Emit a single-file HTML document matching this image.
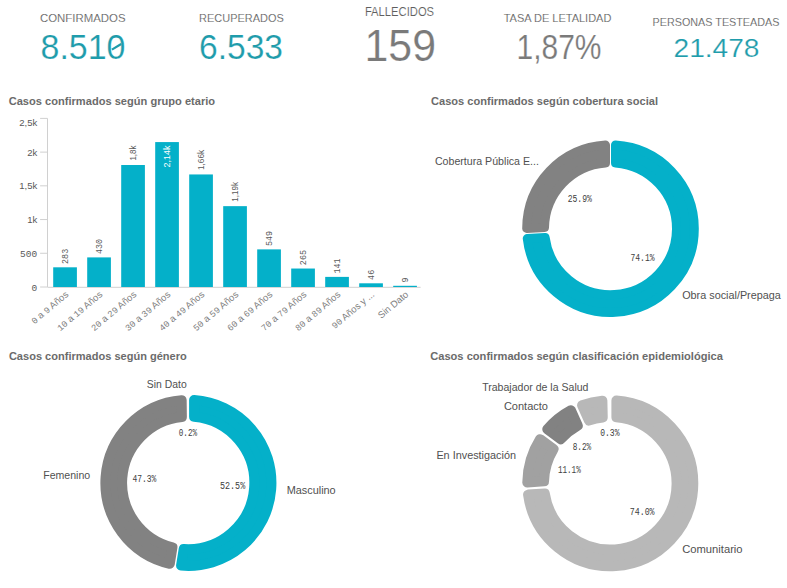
<!DOCTYPE html>
<html><head><meta charset="utf-8"><style>
html,body{margin:0;padding:0;background:#fff;width:787px;height:588px;overflow:hidden}
svg{display:block}
</style></head><body>
<svg width="787" height="588" viewBox="0 0 787 588">
<text x="39.9" y="21.8" font-family="Liberation Sans, sans-serif" font-size="11.5" fill="#5e5e5e" text-anchor="start" font-weight="normal" textLength="85.6" lengthAdjust="spacingAndGlyphs" stroke="#fff" stroke-width="0.12">CONFIRMADOS</text>
<text x="199.1" y="21.9" font-family="Liberation Sans, sans-serif" font-size="11.5" fill="#5e5e5e" text-anchor="start" font-weight="normal" textLength="84.7" lengthAdjust="spacingAndGlyphs" stroke="#fff" stroke-width="0.12">RECUPERADOS</text>
<text x="364.9" y="15.9" font-family="Liberation Sans, sans-serif" font-size="12.2" fill="#5e5e5e" text-anchor="start" font-weight="normal" textLength="69.2" lengthAdjust="spacingAndGlyphs" stroke="#fff" stroke-width="0.12">FALLECIDOS</text>
<text x="503.7" y="21.8" font-family="Liberation Sans, sans-serif" font-size="11.5" fill="#5e5e5e" text-anchor="start" font-weight="normal" textLength="107.7" lengthAdjust="spacingAndGlyphs" stroke="#fff" stroke-width="0.12">TASA DE LETALIDAD</text>
<text x="652.6" y="25.6" font-family="Liberation Sans, sans-serif" font-size="11.5" fill="#5e5e5e" text-anchor="start" font-weight="normal" textLength="126.8" lengthAdjust="spacingAndGlyphs" stroke="#fff" stroke-width="0.12">PERSONAS TESTEADAS</text>
<text x="40.5" y="59" font-family="Liberation Sans, sans-serif" font-size="34.5" fill="#1f9cab" text-anchor="start" font-weight="normal" textLength="85" lengthAdjust="spacingAndGlyphs" stroke="#fff" stroke-width="0.2">8.510</text>
<text x="199" y="59" font-family="Liberation Sans, sans-serif" font-size="34.5" fill="#1f9cab" text-anchor="start" font-weight="normal" textLength="84" lengthAdjust="spacingAndGlyphs" stroke="#fff" stroke-width="0.2">6.533</text>
<text x="364.5" y="60.7" font-family="Liberation Sans, sans-serif" font-size="44.5" fill="#7a7a7a" text-anchor="start" font-weight="normal" textLength="71.5" lengthAdjust="spacingAndGlyphs" stroke="#fff" stroke-width="0.2">159</text>
<line x1="111.9" y1="49.6" x2="121.2" y2="44.0" stroke="#1f9cab" stroke-width="2.2"/>
<text x="516.5" y="59.1" font-family="Liberation Sans, sans-serif" font-size="34.5" fill="#7a7a7a" text-anchor="start" font-weight="normal" textLength="85" lengthAdjust="spacingAndGlyphs" stroke="#fff" stroke-width="0.2">1,87%</text>
<text x="673.5" y="56.5" font-family="Liberation Sans, sans-serif" font-size="26" fill="#1f9cab" text-anchor="start" font-weight="normal" textLength="86" lengthAdjust="spacingAndGlyphs" stroke="#fff" stroke-width="0.2">21.478</text>
<text x="8.7" y="105.2" font-family="Liberation Sans, sans-serif" font-size="11.8" fill="#6b6b6b" text-anchor="start" font-weight="bold" textLength="206.4" lengthAdjust="spacingAndGlyphs">Casos confirmados según grupo etario</text>
<text x="431" y="105.2" font-family="Liberation Sans, sans-serif" font-size="11.8" fill="#6b6b6b" text-anchor="start" font-weight="bold" textLength="227" lengthAdjust="spacingAndGlyphs">Casos confirmados según cobertura social</text>
<text x="8.9" y="359.8" font-family="Liberation Sans, sans-serif" font-size="11.8" fill="#6b6b6b" text-anchor="start" font-weight="bold" textLength="177.9" lengthAdjust="spacingAndGlyphs">Casos confirmados según género</text>
<text x="430.2" y="359.8" font-family="Liberation Sans, sans-serif" font-size="11.8" fill="#6b6b6b" text-anchor="start" font-weight="bold" textLength="292.8" lengthAdjust="spacingAndGlyphs">Casos confirmados según clasificación epidemiológica</text>
<line x1="47.5" y1="118.4" x2="47.5" y2="287.0" stroke="#d0d0d0" stroke-width="1"/>
<line x1="47.5" y1="287.3" x2="420.6" y2="287.3" stroke="#d0d0d0" stroke-width="1"/>
<line x1="40.1" y1="287.00" x2="47.5" y2="287.00" stroke="#d0d0d0" stroke-width="1"/>
<text x="37.2" y="290.5" font-family="Liberation Mono, monospace" font-size="9.5" fill="#595959" text-anchor="end" font-weight="normal">0</text>
<line x1="40.1" y1="253.28" x2="47.5" y2="253.28" stroke="#d0d0d0" stroke-width="1"/>
<text x="37.2" y="256.78" font-family="Liberation Mono, monospace" font-size="9.5" fill="#595959" text-anchor="end" font-weight="normal">500</text>
<line x1="40.1" y1="219.56" x2="47.5" y2="219.56" stroke="#d0d0d0" stroke-width="1"/>
<text x="37.2" y="223.06" font-family="Liberation Sans, sans-serif" font-size="9.5" fill="#595959" text-anchor="end" font-weight="normal">1k</text>
<line x1="40.1" y1="185.84" x2="47.5" y2="185.84" stroke="#d0d0d0" stroke-width="1"/>
<text x="37.2" y="189.34" font-family="Liberation Sans, sans-serif" font-size="9.5" fill="#595959" text-anchor="end" font-weight="normal">1,5k</text>
<line x1="40.1" y1="152.12" x2="47.5" y2="152.12" stroke="#d0d0d0" stroke-width="1"/>
<text x="37.2" y="155.62" font-family="Liberation Sans, sans-serif" font-size="9.5" fill="#595959" text-anchor="end" font-weight="normal">2k</text>
<line x1="40.1" y1="118.40" x2="47.5" y2="118.40" stroke="#d0d0d0" stroke-width="1"/>
<text x="37.2" y="125.7" font-family="Liberation Sans, sans-serif" font-size="9.5" fill="#595959" text-anchor="end" font-weight="normal">2,5k</text>
<rect x="53.20" y="267.31" width="23.7" height="19.69" fill="#04b0c9"/>
<text transform="translate(68.15,263.91) rotate(-90)" font-family="Liberation Mono, monospace" font-size="8.4" fill="#595959" text-anchor="start">283</text>
<text transform="translate(69.05,295.50) rotate(-40)" font-family="Liberation Sans, sans-serif" font-size="9.5" fill="#808080" text-anchor="end"><tspan font-family="Liberation Mono, monospace" font-size="9">0</tspan> a <tspan font-family="Liberation Mono, monospace" font-size="9">9</tspan> Años</text>
<rect x="87.20" y="257.40" width="23.7" height="29.60" fill="#04b0c9"/>
<text transform="translate(102.15,254.00) rotate(-90)" font-family="Liberation Mono, monospace" font-size="8.4" fill="#595959" text-anchor="start">430</text>
<text transform="translate(103.05,295.50) rotate(-40)" font-family="Liberation Sans, sans-serif" font-size="9.5" fill="#808080" text-anchor="end"><tspan font-family="Liberation Mono, monospace" font-size="9">10</tspan> a <tspan font-family="Liberation Mono, monospace" font-size="9">19</tspan> Años</text>
<rect x="121.20" y="165.01" width="23.7" height="121.99" fill="#04b0c9"/>
<text transform="translate(136.15,160.61) rotate(-90)" font-family="Liberation Sans, sans-serif" font-size="9" fill="#595959" text-anchor="start" textLength="15" lengthAdjust="spacingAndGlyphs">1,8k</text>
<text transform="translate(137.05,295.50) rotate(-40)" font-family="Liberation Sans, sans-serif" font-size="9.5" fill="#808080" text-anchor="end"><tspan font-family="Liberation Mono, monospace" font-size="9">20</tspan> a <tspan font-family="Liberation Mono, monospace" font-size="9">29</tspan> Años</text>
<rect x="155.20" y="142.08" width="23.7" height="144.92" fill="#04b0c9"/>
<text transform="translate(170.35,145.48) rotate(-90)" font-family="Liberation Sans, sans-serif" font-size="9" fill="#ffffff" text-anchor="end">2,14k</text>
<text transform="translate(171.05,295.50) rotate(-40)" font-family="Liberation Sans, sans-serif" font-size="9.5" fill="#808080" text-anchor="end"><tspan font-family="Liberation Mono, monospace" font-size="9">30</tspan> a <tspan font-family="Liberation Mono, monospace" font-size="9">39</tspan> Años</text>
<rect x="189.20" y="174.45" width="23.7" height="112.55" fill="#04b0c9"/>
<text transform="translate(204.15,170.05) rotate(-90)" font-family="Liberation Sans, sans-serif" font-size="9" fill="#595959" text-anchor="start" textLength="20.3" lengthAdjust="spacingAndGlyphs">1,66k</text>
<text transform="translate(205.05,295.50) rotate(-40)" font-family="Liberation Sans, sans-serif" font-size="9.5" fill="#808080" text-anchor="end"><tspan font-family="Liberation Mono, monospace" font-size="9">40</tspan> a <tspan font-family="Liberation Mono, monospace" font-size="9">49</tspan> Años</text>
<rect x="223.20" y="206.15" width="23.7" height="80.85" fill="#04b0c9"/>
<text transform="translate(238.15,201.75) rotate(-90)" font-family="Liberation Sans, sans-serif" font-size="9" fill="#595959" text-anchor="start" textLength="19.8" lengthAdjust="spacingAndGlyphs">1,19k</text>
<text transform="translate(239.05,295.50) rotate(-40)" font-family="Liberation Sans, sans-serif" font-size="9.5" fill="#808080" text-anchor="end"><tspan font-family="Liberation Mono, monospace" font-size="9">50</tspan> a <tspan font-family="Liberation Mono, monospace" font-size="9">59</tspan> Años</text>
<rect x="257.20" y="249.38" width="23.7" height="37.62" fill="#04b0c9"/>
<text transform="translate(272.15,245.98) rotate(-90)" font-family="Liberation Mono, monospace" font-size="8.4" fill="#595959" text-anchor="start">549</text>
<text transform="translate(273.05,295.50) rotate(-40)" font-family="Liberation Sans, sans-serif" font-size="9.5" fill="#808080" text-anchor="end"><tspan font-family="Liberation Mono, monospace" font-size="9">60</tspan> a <tspan font-family="Liberation Mono, monospace" font-size="9">69</tspan> Años</text>
<rect x="291.20" y="268.53" width="23.7" height="18.47" fill="#04b0c9"/>
<text transform="translate(306.15,265.13) rotate(-90)" font-family="Liberation Mono, monospace" font-size="8.4" fill="#595959" text-anchor="start">265</text>
<text transform="translate(307.05,295.50) rotate(-40)" font-family="Liberation Sans, sans-serif" font-size="9.5" fill="#808080" text-anchor="end"><tspan font-family="Liberation Mono, monospace" font-size="9">70</tspan> a <tspan font-family="Liberation Mono, monospace" font-size="9">79</tspan> Años</text>
<rect x="325.20" y="276.89" width="23.7" height="10.11" fill="#04b0c9"/>
<text transform="translate(340.15,273.49) rotate(-90)" font-family="Liberation Mono, monospace" font-size="8.4" fill="#595959" text-anchor="start">141</text>
<text transform="translate(341.05,295.50) rotate(-40)" font-family="Liberation Sans, sans-serif" font-size="9.5" fill="#808080" text-anchor="end"><tspan font-family="Liberation Mono, monospace" font-size="9">80</tspan> a <tspan font-family="Liberation Mono, monospace" font-size="9">89</tspan> Años</text>
<rect x="359.20" y="283.30" width="23.7" height="3.70" fill="#04b0c9"/>
<text transform="translate(374.15,279.90) rotate(-90)" font-family="Liberation Mono, monospace" font-size="8.4" fill="#595959" text-anchor="start">46</text>
<text transform="translate(375.05,295.50) rotate(-40)" font-family="Liberation Sans, sans-serif" font-size="9.5" fill="#808080" text-anchor="end"><tspan font-family="Liberation Mono, monospace" font-size="9">90</tspan> Años y ...</text>
<rect x="393.20" y="285.79" width="23.7" height="1.21" fill="#04b0c9"/>
<text transform="translate(408.15,282.39) rotate(-90)" font-family="Liberation Mono, monospace" font-size="8.4" fill="#595959" text-anchor="start">9</text>
<text transform="translate(409.05,295.50) rotate(-40)" font-family="Liberation Sans, sans-serif" font-size="9.5" fill="#808080" text-anchor="end">Sin Dato</text>
<path d="M615.50,145.05 A83.80,83.80 0 1 1 527.27,238.42 L545.08,237.41 A66.00,66.00 0 1 0 615.50,162.89 Z" fill="#04b0c9" stroke="#04b0c9" stroke-width="9.0" stroke-linejoin="round"/>
<path d="M526.70,228.44 A83.80,83.80 0 0 1 605.50,145.05 L605.50,162.89 A66.00,66.00 0 0 0 544.51,227.43 Z" fill="#828282" stroke="#828282" stroke-width="9.0" stroke-linejoin="round"/>
<text x="434.9" y="164.8" font-family="Liberation Sans, sans-serif" font-size="10.5" fill="#505050" text-anchor="start" font-weight="normal" textLength="104" lengthAdjust="spacingAndGlyphs">Cobertura Pública E...</text>
<text x="682.2" y="298.9" font-family="Liberation Sans, sans-serif" font-size="10.5" fill="#505050" text-anchor="start" font-weight="normal" textLength="98.6" lengthAdjust="spacingAndGlyphs">Obra social/Prepaga</text>
<text x="567.7" y="201.9" font-family="Liberation Mono, monospace" font-size="10.5" fill="#404040" text-anchor="start" font-weight="normal" textLength="24.2" lengthAdjust="spacingAndGlyphs">25.9%</text>
<text x="630.5" y="260.9" font-family="Liberation Mono, monospace" font-size="10.5" fill="#404040" text-anchor="start" font-weight="normal" textLength="24" lengthAdjust="spacingAndGlyphs">74.1%</text>
<path d="M194.10,400.10 A83.00,83.00 0 1 1 181.08,565.58 L183.70,549.03 A66.30,66.30 0 0 0 194.10,416.85 Z" fill="#04b0c9" stroke="#04b0c9" stroke-width="10.0" stroke-linejoin="round"/>
<path d="M169.82,563.79 A83.00,83.00 0 0 1 181.66,400.17 L181.87,416.92 A66.30,66.30 0 0 0 172.44,547.25 Z" fill="#828282" stroke="#828282" stroke-width="10.0" stroke-linejoin="round"/>
<text x="146.8" y="388" font-family="Liberation Sans, sans-serif" font-size="10.5" fill="#505050" text-anchor="start" font-weight="normal" textLength="39.9" lengthAdjust="spacingAndGlyphs">Sin Dato</text>
<text x="43.2" y="478.9" font-family="Liberation Sans, sans-serif" font-size="10.5" fill="#505050" text-anchor="start" font-weight="normal" textLength="47" lengthAdjust="spacingAndGlyphs">Femenino</text>
<text x="286.7" y="494" font-family="Liberation Sans, sans-serif" font-size="10.5" fill="#505050" text-anchor="start" font-weight="normal" textLength="49" lengthAdjust="spacingAndGlyphs">Masculino</text>
<text x="178.8" y="435.9" font-family="Liberation Mono, monospace" font-size="10.5" fill="#404040" text-anchor="start" font-weight="normal" textLength="18.3" lengthAdjust="spacingAndGlyphs">0.2%</text>
<text x="132.4" y="481.8" font-family="Liberation Mono, monospace" font-size="10.5" fill="#404040" text-anchor="start" font-weight="normal" textLength="23.9" lengthAdjust="spacingAndGlyphs">47.3%</text>
<text x="220" y="489.2" font-family="Liberation Mono, monospace" font-size="10.5" fill="#404040" text-anchor="start" font-weight="normal" textLength="25.2" lengthAdjust="spacingAndGlyphs">52.5%</text>
<path d="M616.40,400.52 A83.00,83.00 0 1 1 528.07,494.59 L544.79,493.53 A66.30,66.30 0 1 0 616.40,417.28 Z" fill="#b8b8b8" stroke="#b8b8b8" stroke-width="10.0" stroke-linejoin="round"/>
<path d="M527.30,482.41 A83.00,83.00 0 0 1 540.02,439.14 L553.52,449.07 A66.30,66.30 0 0 0 544.03,481.36 Z" fill="#a1a1a1" stroke="#a1a1a1" stroke-width="10.0" stroke-linejoin="round"/>
<path d="M547.26,429.31 A83.00,83.00 0 0 1 570.91,410.24 L577.75,425.54 A66.30,66.30 0 0 0 560.75,439.25 Z" fill="#828282" stroke="#828282" stroke-width="10.0" stroke-linejoin="round"/>
<path d="M582.04,405.26 A83.00,83.00 0 0 1 602.38,400.68 L602.75,417.43 A66.30,66.30 0 0 0 588.89,420.55 Z" fill="#b8b8b8" stroke="#b8b8b8" stroke-width="10.0" stroke-linejoin="round"/>
<text x="482.2" y="391" font-family="Liberation Sans, sans-serif" font-size="10.5" fill="#505050" text-anchor="start" font-weight="normal" textLength="106.3" lengthAdjust="spacingAndGlyphs">Trabajador de la Salud</text>
<text x="503.9" y="410" font-family="Liberation Sans, sans-serif" font-size="10.5" fill="#505050" text-anchor="start" font-weight="normal" textLength="44.1" lengthAdjust="spacingAndGlyphs">Contacto</text>
<text x="436.4" y="459.2" font-family="Liberation Sans, sans-serif" font-size="10.5" fill="#505050" text-anchor="start" font-weight="normal" textLength="79.6" lengthAdjust="spacingAndGlyphs">En Investigación</text>
<text x="682.2" y="552.9" font-family="Liberation Sans, sans-serif" font-size="10.5" fill="#505050" text-anchor="start" font-weight="normal" textLength="60.4" lengthAdjust="spacingAndGlyphs">Comunitario</text>
<text x="600.2" y="435.9" font-family="Liberation Mono, monospace" font-size="10.5" fill="#404040" text-anchor="start" font-weight="normal" textLength="19.3" lengthAdjust="spacingAndGlyphs">0.3%</text>
<text x="572.7" y="449.9" font-family="Liberation Mono, monospace" font-size="10.5" fill="#404040" text-anchor="start" font-weight="normal" textLength="18.5" lengthAdjust="spacingAndGlyphs">8.2%</text>
<text x="557.9" y="472.7" font-family="Liberation Mono, monospace" font-size="10.5" fill="#404040" text-anchor="start" font-weight="normal" textLength="22.8" lengthAdjust="spacingAndGlyphs">11.1%</text>
<text x="629.7" y="515.3" font-family="Liberation Mono, monospace" font-size="10.5" fill="#404040" text-anchor="start" font-weight="normal" textLength="24.9" lengthAdjust="spacingAndGlyphs">74.0%</text>
</svg>
</body></html>
